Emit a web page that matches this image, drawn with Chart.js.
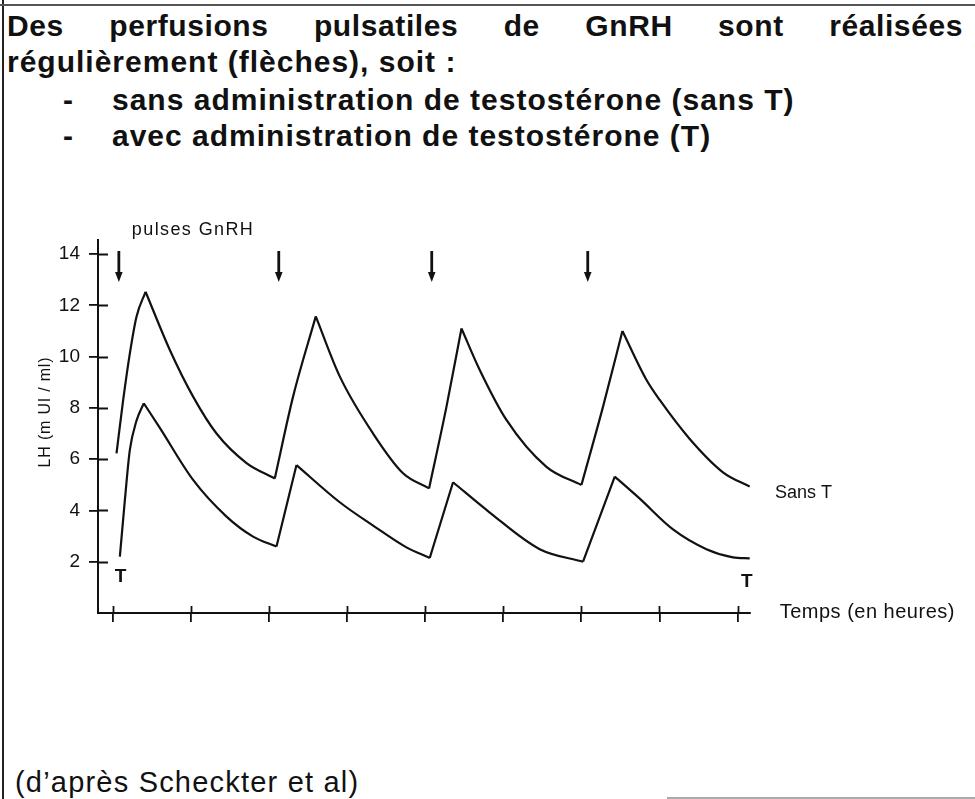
<!DOCTYPE html>
<html lang="fr">
<head>
<meta charset="utf-8">
<title>LH – pulses GnRH</title>
<script src="https://cdn.jsdelivr.net/npm/chart.js@4.4.1/dist/chart.umd.min.js"></script>
<style>
  html, body { margin: 0; padding: 0; background: #ffffff; }
  #page { position: relative; width: 975px; height: 799px; overflow: hidden; background: #ffffff;
          font-family: "Liberation Sans", Arial, Helvetica, sans-serif; color: #111; }
  .hd { position: absolute; font-weight: bold; font-size: 30px; line-height: 30px; letter-spacing: 1px; white-space: nowrap; }
  #row1 { left: 7px; width: 956px; text-align: justify; text-align-last: justify; white-space: normal; letter-spacing: 0.6px; }
  #foot { position: absolute; left: 15px; top: 768px; font-size: 29px; line-height: 29px; letter-spacing: 1.2px; white-space: nowrap; }
  #bl { position: absolute; left: 2px; top: 0; width: 2px; height: 799px; background: #222; }
  #bt { position: absolute; left: 0; top: 4px; width: 975px; height: 1.5px; background: #555; }
  #bb { position: absolute; left: 667px; top: 797px; width: 308px; height: 2px; background: #aaa; }
  canvas { position: absolute; left: 0; top: 0; }
</style>
</head>
<body>
<div id="page">
  <div id="bl"></div><div id="bt"></div><div id="bb"></div>
  <div class="hd" id="row1" style="top:11px">Des perfusions pulsatiles de GnRH sont réalisées</div>
  <div class="hd" style="left:7px; top:47px">régulièrement (flèches), soit :</div>
  <div class="hd" style="left:63px; top:85px">-</div>
  <div class="hd" style="left:112px; top:85px">sans administration de testostérone (sans T)</div>
  <div class="hd" style="left:63px; top:121px">-</div>
  <div class="hd" style="left:112px; top:121px">avec administration de testostérone (T)</div>
  <div id="foot">(d’après Scheckter et al)</div>
  <canvas id="c" width="975" height="799"></canvas>
</div>
<script>
// ---- data (time in tick units, LH in mUI/ml) ----
const timeSansT = [0.047, 0.132, 0.218, 0.303, 0.419, 0.730, 1.028, 1.328, 1.712, 2.074,
                   2.309, 2.599, 2.906, 3.333, 3.717, 4.050, 4.273, 4.465, 4.699, 5.041,
                   5.553, 6.001, 6.278, 6.526, 6.833, 7.004, 7.388, 7.814, 8.156];
const lhSansT   = [6.23, 8.30, 10.13, 11.56, 12.53, 10.26, 8.44, 7.00, 5.85, 5.25,
                   8.45, 11.57, 9.23, 7.00, 5.45, 4.86, 8.05, 11.10, 9.48, 7.53,
                   5.70, 4.99, 8.05, 11.00, 9.10, 8.31, 6.79, 5.49, 4.93];
const timeAvecT = [0.090, 0.154, 0.218, 0.303, 0.397, 0.602, 1.028, 1.456, 1.796, 2.096,
                   2.352, 2.906, 3.333, 3.760, 4.059, 4.357, 4.827, 5.467, 6.022, 6.428,
                   6.748, 7.174, 7.602, 7.942, 8.156];
const lhAvecT   = [2.20, 4.40, 6.36, 7.50, 8.18, 7.22, 5.19, 3.76, 2.98, 2.59,
                   5.77, 4.32, 3.41, 2.56, 2.15, 5.10, 3.92, 2.49, 2.00, 5.32,
                   4.46, 3.26, 2.49, 2.17, 2.13];
const pulseTimes = [0.077, 2.125, 4.084, 6.082];
const xTicks = [0, 1, 2, 3, 4, 5, 6, 7, 8];
const yTicks = [2, 4, 6, 8, 10, 12, 14];
const yTitle = 'LH (m UI / ml)';
const labelPulses = 'pulses GnRH';
const labelSansT = 'Sans T';
const labelT = 'T';
const labelTime = 'Temps (en heures)';

// ---- styling ----
const INK = '#111111';
const FONT = '"Liberation Sans", Arial, Helvetica, sans-serif';

// split a curve at its turning points so each rise / decay is its own smooth piece
function splitAtTurns(xs, ys) {
  const segs = [];
  let cur = [{ x: xs[0], y: ys[0] }];
  for (let i = 1; i < xs.length; i++) {
    cur.push({ x: xs[i], y: ys[i] });
    if (i < xs.length - 1) {
      const d1 = ys[i] - ys[i - 1], d2 = ys[i + 1] - ys[i];
      if (d1 * d2 < 0) { segs.push(cur); cur = [{ x: xs[i], y: ys[i] }]; }
    }
  }
  segs.push(cur);
  return segs;
}

const datasets = [];
[['Sans T', timeSansT, lhSansT], ['T', timeAvecT, lhAvecT]].forEach(([name, xs, ys]) => {
  splitAtTurns(xs, ys).forEach((seg, k) => {
    datasets.push({
      label: name + ' ' + k, data: seg, borderColor: INK, borderWidth: 2.2,
      pointRadius: 0, tension: 0.4, cubicInterpolationMode: 'monotone', fill: false
    });
  });
});

const decorations = {
  id: 'decorations',
  afterDraw(chart) {
    const { ctx, scales: { x, y } } = chart;
    const X = v => x.getPixelForValue(v), Y = v => y.getPixelForValue(v);
    ctx.save();
    ctx.strokeStyle = INK; ctx.fillStyle = INK; ctx.lineWidth = 1.8;
    // inner halves of the crossing ticks
    ctx.beginPath();
    xTicks.forEach(v => { const p = Math.round(X(v)) + 0.5; ctx.moveTo(p, y.bottom); ctx.lineTo(p, y.bottom - 7); });
    yTicks.forEach(v => { const p = Math.round(Y(v)) + 0.5; ctx.moveTo(x.left, p); ctx.lineTo(x.left + 10, p); });
    ctx.stroke();
    // GnRH pulse arrows
    pulseTimes.forEach(t => {
      const px = X(t), top = Y(14.12), bot = Y(12.91);
      ctx.lineWidth = 2.8;
      ctx.beginPath(); ctx.moveTo(px, top); ctx.lineTo(px, bot - 8); ctx.stroke();
      ctx.beginPath(); ctx.moveTo(px - 3.8, bot - 10); ctx.lineTo(px + 3.8, bot - 10); ctx.lineTo(px, bot); ctx.closePath(); ctx.fill();
    });
    // text annotations
    const text = (s, vx, vy, font, align, spacing) => {
      ctx.font = font; ctx.textAlign = align; ctx.textBaseline = 'alphabetic';
      if ('letterSpacing' in ctx) ctx.letterSpacing = spacing || '0px';
      ctx.fillText(s, X(vx), Y(vy));
    };
    text(labelPulses, 0.243, 14.74, '18px ' + FONT, 'left', '1.4px');
    text(labelT, 0.10, 1.21, 'bold 19px ' + FONT, 'center');
    text(labelT, 8.12, 1.01, 'bold 19px ' + FONT, 'center');
    text(labelSansT, 8.48, 4.49, '18px ' + FONT, 'left');
    text(labelTime, 8.54, -0.2, '20px ' + FONT, 'left', '0.5px');
    // y axis title
    ctx.save();
    ctx.translate(46, Y(7.84));
    ctx.rotate(-Math.PI / 2);
    ctx.font = '16px ' + FONT; ctx.textAlign = 'center'; ctx.textBaseline = 'middle';
    if ('letterSpacing' in ctx) ctx.letterSpacing = '0.8px';
    ctx.fillText(yTitle, 0, 0);
    ctx.restore();
    ctx.restore();
  }
};

new Chart(document.getElementById('c'), {
  type: 'line',
  data: { datasets },
  options: {
    responsive: false, animation: false, devicePixelRatio: 1,
    layout: { padding: { left: 0, top: 240, right: 225, bottom: 0 } },
    plugins: { legend: { display: false }, tooltip: { enabled: false } },
    scales: {
      x: {
        type: 'linear', min: -0.19, max: 8.16,
        afterBuildTicks: s => { s.ticks = xTicks.map(v => ({ value: v })); },
        afterFit: s => { s.height = 186; },
        ticks: { display: false },
        grid: { drawOnChartArea: false, drawTicks: true, tickLength: 9, color: INK, lineWidth: 1.8 },
        border: { display: true, color: INK, width: 2 }
      },
      y: {
        type: 'linear', min: 0, max: 14.55,
        afterBuildTicks: s => { s.ticks = yTicks.map(v => ({ value: v })); },
        afterFit: s => { s.width = 98; },
        ticks: { color: INK, padding: 9, font: { family: FONT, size: 19 } },
        grid: { drawOnChartArea: false, drawTicks: true, tickLength: 9, color: INK, lineWidth: 1.8 },
        border: { display: true, color: INK, width: 2 }
      }
    }
  },
  plugins: [decorations]
});
</script>
</body>
</html>
